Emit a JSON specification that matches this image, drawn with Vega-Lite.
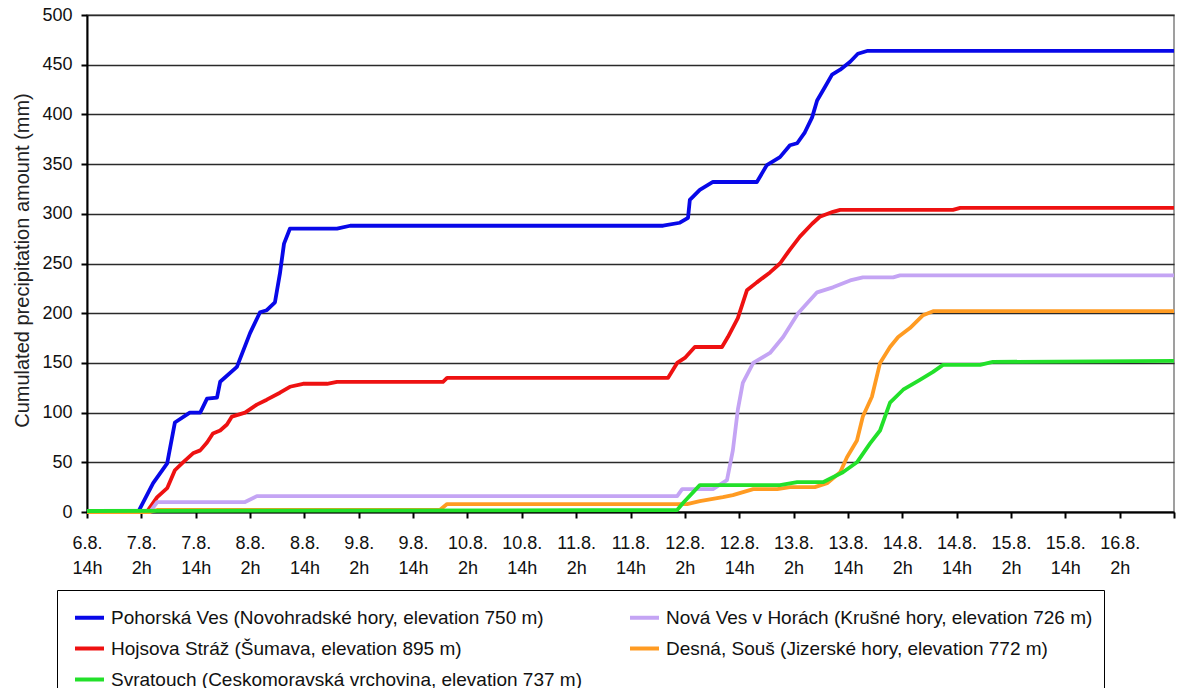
{
  "$schema": "https://vega.github.io/schema/vega-lite/v6.json",
  "width": 1087,
  "height": 497,
  "autosize": {"type": "none"},
  "padding": {"left": 87, "top": 15, "right": 5, "bottom": 176},
  "background": "white",
  "config": {
    "font": "Liberation Sans",
    "view": {"stroke": "#808080", "strokeWidth": 1.5}
  },
  "datasets": {
    "rows": [
      {"station": "Pohorská Ves (Novohradské hory,  elevation 750 m)", "hours": 0, "mm": 0},
      {"station": "Pohorská Ves (Novohradské hory,  elevation 750 m)", "hours": 11.3, "mm": 0},
      {"station": "Pohorská Ves (Novohradské hory,  elevation 750 m)", "hours": 14.6, "mm": 29},
      {"station": "Pohorská Ves (Novohradské hory,  elevation 750 m)", "hours": 17.7, "mm": 49},
      {"station": "Pohorská Ves (Novohradské hory,  elevation 750 m)", "hours": 19.4, "mm": 90},
      {"station": "Pohorská Ves (Novohradské hory,  elevation 750 m)", "hours": 22.7, "mm": 100},
      {"station": "Pohorská Ves (Novohradské hory,  elevation 750 m)", "hours": 25.0, "mm": 100},
      {"station": "Pohorská Ves (Novohradské hory,  elevation 750 m)", "hours": 26.5, "mm": 114},
      {"station": "Pohorská Ves (Novohradské hory,  elevation 750 m)", "hours": 28.7, "mm": 115},
      {"station": "Pohorská Ves (Novohradské hory,  elevation 750 m)", "hours": 29.4, "mm": 131},
      {"station": "Pohorská Ves (Novohradské hory,  elevation 750 m)", "hours": 33.1, "mm": 146},
      {"station": "Pohorská Ves (Novohradské hory,  elevation 750 m)", "hours": 36.0, "mm": 180},
      {"station": "Pohorská Ves (Novohradské hory,  elevation 750 m)", "hours": 38.2, "mm": 201},
      {"station": "Pohorská Ves (Novohradské hory,  elevation 750 m)", "hours": 39.7, "mm": 203},
      {"station": "Pohorská Ves (Novohradské hory,  elevation 750 m)", "hours": 41.5, "mm": 211},
      {"station": "Pohorská Ves (Novohradské hory,  elevation 750 m)", "hours": 42.6, "mm": 240},
      {"station": "Pohorská Ves (Novohradské hory,  elevation 750 m)", "hours": 43.5, "mm": 270},
      {"station": "Pohorská Ves (Novohradské hory,  elevation 750 m)", "hours": 44.8, "mm": 285},
      {"station": "Pohorská Ves (Novohradské hory,  elevation 750 m)", "hours": 55.2, "mm": 285},
      {"station": "Pohorská Ves (Novohradské hory,  elevation 750 m)", "hours": 58.1, "mm": 288},
      {"station": "Pohorská Ves (Novohradské hory,  elevation 750 m)", "hours": 127.2, "mm": 288},
      {"station": "Pohorská Ves (Novohradské hory,  elevation 750 m)", "hours": 130.9, "mm": 291},
      {"station": "Pohorská Ves (Novohradské hory,  elevation 750 m)", "hours": 132.7, "mm": 296},
      {"station": "Pohorská Ves (Novohradské hory,  elevation 750 m)", "hours": 133.1, "mm": 314},
      {"station": "Pohorská Ves (Novohradské hory,  elevation 750 m)", "hours": 135.3, "mm": 324},
      {"station": "Pohorská Ves (Novohradské hory,  elevation 750 m)", "hours": 138.2, "mm": 332},
      {"station": "Pohorská Ves (Novohradské hory,  elevation 750 m)", "hours": 147.9, "mm": 332},
      {"station": "Pohorská Ves (Novohradské hory,  elevation 750 m)", "hours": 150.1, "mm": 349},
      {"station": "Pohorská Ves (Novohradské hory,  elevation 750 m)", "hours": 153.0, "mm": 357},
      {"station": "Pohorská Ves (Novohradské hory,  elevation 750 m)", "hours": 155.2, "mm": 369},
      {"station": "Pohorská Ves (Novohradské hory,  elevation 750 m)", "hours": 156.8, "mm": 371},
      {"station": "Pohorská Ves (Novohradské hory,  elevation 750 m)", "hours": 158.5, "mm": 382},
      {"station": "Pohorská Ves (Novohradské hory,  elevation 750 m)", "hours": 160.1, "mm": 397},
      {"station": "Pohorská Ves (Novohradské hory,  elevation 750 m)", "hours": 161.2, "mm": 414},
      {"station": "Pohorská Ves (Novohradské hory,  elevation 750 m)", "hours": 163.0, "mm": 428},
      {"station": "Pohorská Ves (Novohradské hory,  elevation 750 m)", "hours": 164.5, "mm": 440},
      {"station": "Pohorská Ves (Novohradské hory,  elevation 750 m)", "hours": 166.3, "mm": 445},
      {"station": "Pohorská Ves (Novohradské hory,  elevation 750 m)", "hours": 168.5, "mm": 453},
      {"station": "Pohorská Ves (Novohradské hory,  elevation 750 m)", "hours": 170.2, "mm": 461},
      {"station": "Pohorská Ves (Novohradské hory,  elevation 750 m)", "hours": 172.4, "mm": 464},
      {"station": "Pohorská Ves (Novohradské hory,  elevation 750 m)", "hours": 240, "mm": 464},

      {"station": "Hojsova Stráž (Šumava, elevation 895 m)", "hours": 0, "mm": 0},
      {"station": "Hojsova Stráž (Šumava, elevation 895 m)", "hours": 13.2, "mm": 0},
      {"station": "Hojsova Stráž (Šumava, elevation 895 m)", "hours": 15.5, "mm": 15},
      {"station": "Hojsova Stráž (Šumava, elevation 895 m)", "hours": 17.7, "mm": 24},
      {"station": "Hojsova Stráž (Šumava, elevation 895 m)", "hours": 19.4, "mm": 42},
      {"station": "Hojsova Stráž (Šumava, elevation 895 m)", "hours": 21.2, "mm": 50},
      {"station": "Hojsova Stráž (Šumava, elevation 895 m)", "hours": 23.4, "mm": 59},
      {"station": "Hojsova Stráž (Šumava, elevation 895 m)", "hours": 25.0, "mm": 62},
      {"station": "Hojsova Stráž (Šumava, elevation 895 m)", "hours": 26.5, "mm": 70},
      {"station": "Hojsova Stráž (Šumava, elevation 895 m)", "hours": 27.8, "mm": 79},
      {"station": "Hojsova Stráž (Šumava, elevation 895 m)", "hours": 29.4, "mm": 82},
      {"station": "Hojsova Stráž (Šumava, elevation 895 m)", "hours": 30.9, "mm": 88},
      {"station": "Hojsova Stráž (Šumava, elevation 895 m)", "hours": 32.0, "mm": 96},
      {"station": "Hojsova Stráž (Šumava, elevation 895 m)", "hours": 34.9, "mm": 100},
      {"station": "Hojsova Stráž (Šumava, elevation 895 m)", "hours": 37.5, "mm": 108},
      {"station": "Hojsova Stráž (Šumava, elevation 895 m)", "hours": 39.7, "mm": 113},
      {"station": "Hojsova Stráž (Šumava, elevation 895 m)", "hours": 42.6, "mm": 120},
      {"station": "Hojsova Stráž (Šumava, elevation 895 m)", "hours": 44.8, "mm": 126},
      {"station": "Hojsova Stráž (Šumava, elevation 895 m)", "hours": 47.7, "mm": 129},
      {"station": "Hojsova Stráž (Šumava, elevation 895 m)", "hours": 53.0, "mm": 129},
      {"station": "Hojsova Stráž (Šumava, elevation 895 m)", "hours": 55.2, "mm": 131},
      {"station": "Hojsova Stráž (Šumava, elevation 895 m)", "hours": 78.6, "mm": 131},
      {"station": "Hojsova Stráž (Šumava, elevation 895 m)", "hours": 79.5, "mm": 135},
      {"station": "Hojsova Stráž (Šumava, elevation 895 m)", "hours": 128.3, "mm": 135},
      {"station": "Hojsova Stráž (Šumava, elevation 895 m)", "hours": 130.3, "mm": 150},
      {"station": "Hojsova Stráž (Šumava, elevation 895 m)", "hours": 132.0, "mm": 155},
      {"station": "Hojsova Stráž (Šumava, elevation 895 m)", "hours": 134.2, "mm": 166},
      {"station": "Hojsova Stráž (Šumava, elevation 895 m)", "hours": 140.2, "mm": 166},
      {"station": "Hojsova Stráž (Šumava, elevation 895 m)", "hours": 141.5, "mm": 176},
      {"station": "Hojsova Stráž (Šumava, elevation 895 m)", "hours": 143.7, "mm": 195},
      {"station": "Hojsova Stráž (Šumava, elevation 895 m)", "hours": 145.7, "mm": 223},
      {"station": "Hojsova Stráž (Šumava, elevation 895 m)", "hours": 147.9, "mm": 231},
      {"station": "Hojsova Stráž (Šumava, elevation 895 m)", "hours": 150.8, "mm": 241},
      {"station": "Hojsova Stráž (Šumava, elevation 895 m)", "hours": 153.0, "mm": 250},
      {"station": "Hojsova Stráž (Šumava, elevation 895 m)", "hours": 155.2, "mm": 264},
      {"station": "Hojsova Stráž (Šumava, elevation 895 m)", "hours": 157.4, "mm": 277},
      {"station": "Hojsova Stráž (Šumava, elevation 895 m)", "hours": 160.1, "mm": 290},
      {"station": "Hojsova Stráž (Šumava, elevation 895 m)", "hours": 161.8, "mm": 297},
      {"station": "Hojsova Stráž (Šumava, elevation 895 m)", "hours": 164.7, "mm": 302},
      {"station": "Hojsova Stráž (Šumava, elevation 895 m)", "hours": 166.3, "mm": 304},
      {"station": "Hojsova Stráž (Šumava, elevation 895 m)", "hours": 191.2, "mm": 304},
      {"station": "Hojsova Stráž (Šumava, elevation 895 m)", "hours": 192.8, "mm": 306},
      {"station": "Hojsova Stráž (Šumava, elevation 895 m)", "hours": 240, "mm": 306},

      {"station": "Nová Ves v Horách (Krušné hory, elevation 726 m)", "hours": 0, "mm": 0},
      {"station": "Nová Ves v Horách (Krušné hory, elevation 726 m)", "hours": 13.9, "mm": 0},
      {"station": "Nová Ves v Horách (Krušné hory, elevation 726 m)", "hours": 15.5, "mm": 10},
      {"station": "Nová Ves v Horách (Krušné hory, elevation 726 m)", "hours": 34.9, "mm": 10},
      {"station": "Nová Ves v Horách (Krušné hory, elevation 726 m)", "hours": 37.5, "mm": 16},
      {"station": "Nová Ves v Horách (Krušné hory, elevation 726 m)", "hours": 130.3, "mm": 16},
      {"station": "Nová Ves v Horách (Krušné hory, elevation 726 m)", "hours": 131.4, "mm": 23},
      {"station": "Nová Ves v Horách (Krušné hory, elevation 726 m)", "hours": 138.2, "mm": 23},
      {"station": "Nová Ves v Horách (Krušné hory, elevation 726 m)", "hours": 141.3, "mm": 32},
      {"station": "Nová Ves v Horách (Krušné hory, elevation 726 m)", "hours": 142.6, "mm": 62},
      {"station": "Nová Ves v Horách (Krušné hory, elevation 726 m)", "hours": 143.7, "mm": 103},
      {"station": "Nová Ves v Horách (Krušné hory, elevation 726 m)", "hours": 144.8, "mm": 130},
      {"station": "Nová Ves v Horách (Krušné hory, elevation 726 m)", "hours": 147.1, "mm": 150},
      {"station": "Nová Ves v Horách (Krušné hory, elevation 726 m)", "hours": 150.8, "mm": 160},
      {"station": "Nová Ves v Horách (Krušné hory, elevation 726 m)", "hours": 153.7, "mm": 176},
      {"station": "Nová Ves v Horách (Krušné hory, elevation 726 m)", "hours": 157.0, "mm": 200},
      {"station": "Nová Ves v Horách (Krušné hory, elevation 726 m)", "hours": 161.2, "mm": 221},
      {"station": "Nová Ves v Horách (Krušné hory, elevation 726 m)", "hours": 164.7, "mm": 226},
      {"station": "Nová Ves v Horách (Krušné hory, elevation 726 m)", "hours": 168.5, "mm": 233},
      {"station": "Nová Ves v Horách (Krušné hory, elevation 726 m)", "hours": 171.3, "mm": 236},
      {"station": "Nová Ves v Horách (Krušné hory, elevation 726 m)", "hours": 178.0, "mm": 236},
      {"station": "Nová Ves v Horách (Krušné hory, elevation 726 m)", "hours": 179.5, "mm": 238},
      {"station": "Nová Ves v Horách (Krušné hory, elevation 726 m)", "hours": 240, "mm": 238},

      {"station": "Desná, Souš (Jizerské hory, elevation 772 m)", "hours": 0, "mm": 0},
      {"station": "Desná, Souš (Jizerské hory, elevation 772 m)", "hours": 13.9, "mm": 0},
      {"station": "Desná, Souš (Jizerské hory, elevation 772 m)", "hours": 15.5, "mm": 2},
      {"station": "Desná, Souš (Jizerské hory, elevation 772 m)", "hours": 77.9, "mm": 2},
      {"station": "Desná, Souš (Jizerské hory, elevation 772 m)", "hours": 79.5, "mm": 8},
      {"station": "Desná, Souš (Jizerské hory, elevation 772 m)", "hours": 132.5, "mm": 8},
      {"station": "Desná, Souš (Jizerské hory, elevation 772 m)", "hours": 135.3, "mm": 11},
      {"station": "Desná, Souš (Jizerské hory, elevation 772 m)", "hours": 140.4, "mm": 15},
      {"station": "Desná, Souš (Jizerské hory, elevation 772 m)", "hours": 142.6, "mm": 17},
      {"station": "Desná, Souš (Jizerské hory, elevation 772 m)", "hours": 147.1, "mm": 23},
      {"station": "Desná, Souš (Jizerské hory, elevation 772 m)", "hours": 152.4, "mm": 23},
      {"station": "Desná, Souš (Jizerské hory, elevation 772 m)", "hours": 155.2, "mm": 25},
      {"station": "Desná, Souš (Jizerské hory, elevation 772 m)", "hours": 160.7, "mm": 25},
      {"station": "Desná, Souš (Jizerské hory, elevation 772 m)", "hours": 163.4, "mm": 29},
      {"station": "Desná, Souš (Jizerské hory, elevation 772 m)", "hours": 166.3, "mm": 40},
      {"station": "Desná, Souš (Jizerské hory, elevation 772 m)", "hours": 167.8, "mm": 55},
      {"station": "Desná, Souš (Jizerské hory, elevation 772 m)", "hours": 170.0, "mm": 72},
      {"station": "Desná, Souš (Jizerské hory, elevation 772 m)", "hours": 171.3, "mm": 96},
      {"station": "Desná, Souš (Jizerské hory, elevation 772 m)", "hours": 173.3, "mm": 116},
      {"station": "Desná, Souš (Jizerské hory, elevation 772 m)", "hours": 175.1, "mm": 150},
      {"station": "Desná, Souš (Jizerské hory, elevation 772 m)", "hours": 177.3, "mm": 166},
      {"station": "Desná, Souš (Jizerské hory, elevation 772 m)", "hours": 179.1, "mm": 176},
      {"station": "Desná, Souš (Jizerské hory, elevation 772 m)", "hours": 181.7, "mm": 185},
      {"station": "Desná, Souš (Jizerské hory, elevation 772 m)", "hours": 184.6, "mm": 198},
      {"station": "Desná, Souš (Jizerské hory, elevation 772 m)", "hours": 186.8, "mm": 202},
      {"station": "Desná, Souš (Jizerské hory, elevation 772 m)", "hours": 240, "mm": 202},

      {"station": "Svratouch (Ceskomoravská vrchovina, elevation 737 m)", "hours": 0, "mm": 1},
      {"station": "Svratouch (Ceskomoravská vrchovina, elevation 737 m)", "hours": 130.3, "mm": 2},
      {"station": "Svratouch (Ceskomoravská vrchovina, elevation 737 m)", "hours": 131.6, "mm": 9},
      {"station": "Svratouch (Ceskomoravská vrchovina, elevation 737 m)", "hours": 135.3, "mm": 27},
      {"station": "Svratouch (Ceskomoravská vrchovina, elevation 737 m)", "hours": 153.0, "mm": 27},
      {"station": "Svratouch (Ceskomoravská vrchovina, elevation 737 m)", "hours": 156.8, "mm": 30},
      {"station": "Svratouch (Ceskomoravská vrchovina, elevation 737 m)", "hours": 162.5, "mm": 30},
      {"station": "Svratouch (Ceskomoravská vrchovina, elevation 737 m)", "hours": 164.7, "mm": 35},
      {"station": "Svratouch (Ceskomoravská vrchovina, elevation 737 m)", "hours": 166.9, "mm": 40},
      {"station": "Svratouch (Ceskomoravská vrchovina, elevation 737 m)", "hours": 170.0, "mm": 50},
      {"station": "Svratouch (Ceskomoravská vrchovina, elevation 737 m)", "hours": 172.9, "mm": 69},
      {"station": "Svratouch (Ceskomoravská vrchovina, elevation 737 m)", "hours": 175.1, "mm": 82},
      {"station": "Svratouch (Ceskomoravská vrchovina, elevation 737 m)", "hours": 177.3, "mm": 110},
      {"station": "Svratouch (Ceskomoravská vrchovina, elevation 737 m)", "hours": 180.2, "mm": 123},
      {"station": "Svratouch (Ceskomoravská vrchovina, elevation 737 m)", "hours": 183.9, "mm": 133},
      {"station": "Svratouch (Ceskomoravská vrchovina, elevation 737 m)", "hours": 186.8, "mm": 141},
      {"station": "Svratouch (Ceskomoravská vrchovina, elevation 737 m)", "hours": 189.0, "mm": 148},
      {"station": "Svratouch (Ceskomoravská vrchovina, elevation 737 m)", "hours": 197.2, "mm": 148},
      {"station": "Svratouch (Ceskomoravská vrchovina, elevation 737 m)", "hours": 200.0, "mm": 151},
      {"station": "Svratouch (Ceskomoravská vrchovina, elevation 737 m)", "hours": 240, "mm": 152}
    ]
  },
  "data": {"name": "rows"},
  "mark": {"type": "line", "strokeWidth": 3.8, "strokeJoin": "round"},
  "encoding": {
    "x": {
      "field": "hours",
      "type": "quantitative",
      "scale": {"domain": [0, 240], "nice": false, "zero": false},
      "axis": {
        "title": null,
        "grid": false,
        "values": [0, 12, 24, 36, 48, 60, 72, 84, 96, 108, 120, 132, 144, 156, 168, 180, 192, 204, 216, 228, 240],
        "labelExpr": "datum.value >= 240 ? '' : [(floor((datum.value + 14) / 24) + 6) + '.8.', ((datum.value + 14) % 24) + 'h']",
        "labelFontSize": 18,
        "labelColor": "#111",
        "labelLineHeight": 25,
        "labelPadding": 16,
        "labelFlush": false,
        "labelOverlap": false,
        "domainColor": "#000",
        "domainWidth": 2,
        "tickColor": "#000",
        "tickWidth": 2,
        "tickSize": 6
      }
    },
    "y": {
      "field": "mm",
      "type": "quantitative",
      "scale": {"domain": [0, 500], "nice": false},
      "axis": {
        "title": "Cumulated precipitation amount (mm)",
        "titleFontSize": 20,
        "titleFontWeight": "normal",
        "titleColor": "#222",
        "titleX": -65,
        "titleY": 245,
        "titleBaseline": "middle",
        "values": [0, 50, 100, 150, 200, 250, 300, 350, 400, 450, 500],
        "labelFontSize": 18,
        "labelColor": "#111",
        "labelPadding": 9,
        "grid": true,
        "gridColor": "#2a2a2a",
        "gridWidth": 1.5,
        "domainColor": "#000",
        "domainWidth": 2,
        "tickColor": "#000",
        "tickWidth": 2,
        "tickSize": 6
      }
    },
    "color": {
      "field": "station",
      "type": "nominal",
      "scale": {
        "domain": [
          "Pohorská Ves (Novohradské hory,  elevation 750 m)",
          "Hojsova Stráž (Šumava, elevation 895 m)",
          "Svratouch (Ceskomoravská vrchovina, elevation 737 m)",
          "Nová Ves v Horách (Krušné hory, elevation 726 m)",
          "Desná, Souš (Jizerské hory, elevation 772 m)"
        ],
        "range": ["#0808e8", "#ee1111", "#22e02a", "#c4a4f4", "#ff9b22"]
      },
      "legend": {
        "title": null,
        "orient": "none",
        "legendX": -30,
        "legendY": 575,
        "columns": 2,
        "columnPadding": 40,
        "rowPadding": 4,
        "symbolType": "stroke",
        "symbolStrokeWidth": 4,
        "symbolSize": 841,
        "symbolOffset": 5,
        "labelFontSize": 19,
        "labelColor": "#111",
        "labelLimit": 700,
        "labelOffset": 5,
        "strokeColor": "#000",
        "padding": 11
      }
    }
  }
}
